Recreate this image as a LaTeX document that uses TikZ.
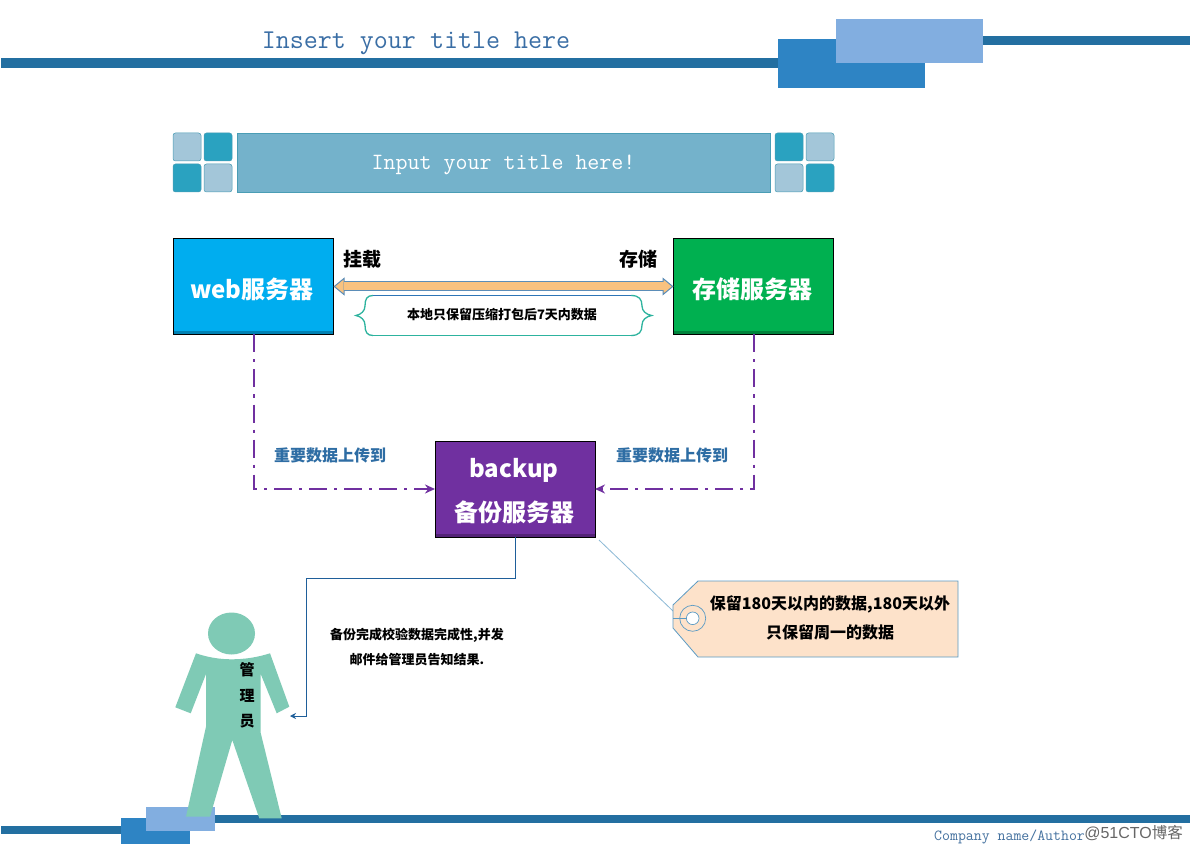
\documentclass[tikz,border=0pt]{standalone}
\usepackage{fontspec}
\usetikzlibrary{arrows.meta}
\newfontfamily\cjk{Noto Sans CJK SC}
\setmainfont{Liberation Sans}
\definecolor{barblue}{HTML}{236FA1}
\definecolor{midblue}{HTML}{2E84C4}
\definecolor{lightblue}{HTML}{82AEE0}
\definecolor{banner}{HTML}{74B2CB}
\definecolor{bannerline}{HTML}{4A9DB5}
\definecolor{tiledark}{HTML}{2AA2C0}
\definecolor{tilelight}{HTML}{A3C6D9}
\definecolor{webfill}{HTML}{00ADEF}
\definecolor{storefill}{HTML}{00B050}
\definecolor{backfill}{HTML}{7030A0}
\definecolor{arrowfill}{HTML}{F9C27F}
\definecolor{arrowline}{HTML}{5B8DB8}
\definecolor{labelblue}{HTML}{2E6DA4}
\definecolor{personfill}{HTML}{7FCAB5}
\definecolor{tagfill}{HTML}{FDE2CA}
\definecolor{tagline}{HTML}{5B9BC4}
\definecolor{teal2}{HTML}{2DB39E}
\definecolor{brace2}{HTML}{2E75B6}
\definecolor{flow}{HTML}{1F5F9A}
\definecolor{titlecol}{HTML}{3A6EA5}
\tikzset{
  server/.style={draw=black,line width=1pt,minimum width=160pt,minimum height=96pt,inner sep=0pt,outer sep=0pt,
    path picture={\fill[black,opacity=.25] ([yshift=3pt]path picture bounding box.south west) rectangle (path picture bounding box.south east);}},
  servertext/.style={text=white,font=\cjk\bfseries\fontsize{24}{30}\selectfont,inner sep=0pt},
  tile/.style={rounded corners=2.5pt,draw=bannerline,line width=.5pt},
  updash/.style={draw=backfill,line width=2pt,dash pattern=on 18pt off 7pt on 3pt off 7pt,-{Stealth[length=10pt,width=9pt]}},
  uplabel/.style={text=labelblue,font=\cjk\bfseries\fontsize{16}{19}\selectfont,inner sep=0pt},
  small/.style={font=\cjk\bfseries\fontsize{13}{15}\selectfont,inner sep=0pt,text=black},
  taglabel/.style={font=\cjk\bfseries\fontsize{16}{19}\selectfont,inner sep=0pt,text=black},
  side/.style={font=\cjk\bfseries\fontsize{19}{23}\selectfont,inner sep=0pt,text=black},
  vert/.style={font=\cjk\bfseries\fontsize{15}{18}\selectfont,inner sep=0pt,text=black},
}
\begin{document}
\begin{tikzpicture}[x=1pt,y=-1pt]
\useasboundingbox (0,0) rectangle (1192,850);
\fill[white] (0,0) rectangle (1192,850);
% top decoration
\fill[barblue] (1,58) rectangle (778,68);
\fill[barblue] (983,36) rectangle (1190,45);
\fill[midblue] (778,39) rectangle (925,88);
\fill[lightblue] (836,19) rectangle (983,63);
\node[text=titlecol,font=\ttfamily\fontsize{27.2}{30}\selectfont,inner sep=0pt] (title) at (416,43) {Insert your title here};
% banner
\fill[tilelight,tile] (173,133) rectangle (201,161);
\fill[tiledark,tile] (204,133) rectangle (232,161);
\fill[tiledark,tile] (173,164) rectangle (201,192);
\fill[tilelight,tile] (204,164) rectangle (232,192);
\fill[tiledark,tile] (775,133) rectangle (803,161);
\fill[tilelight,tile] (806,133) rectangle (834,161);
\fill[tilelight,tile] (775,164) rectangle (803,192);
\fill[tiledark,tile] (806,164) rectangle (834,192);
\node[fill=banner,draw=bannerline,line width=.7pt,minimum width=533pt,minimum height=59pt,inner sep=0pt,text=white,font=\ttfamily\fontsize{23.3}{26}\selectfont] (banner) at (503.5,162.5) {\raisebox{-7.5pt}[0pt][0pt]{Input your title here!}};
% servers
\node[server,fill=webfill] (web) at (253.5,286.5) {};
\node[servertext] (webtext) at (252,289) {web服务器};
\node[server,fill=storefill] (store) at (753.5,286.5) {};
\node[servertext] (storetext) at (752,289) {存储服务器};
\node[server,fill=backfill] (backup) at (515,489) {};
\node[servertext] (backtexta) at (514,470) {backup};
\node[servertext] (backtextb) at (514,512) {备份服务器};
% labels
\node[side] (gua) at (362,259) {挂载};
\node[side] (cun) at (638,259) {存储};
% double arrow
\draw[line width=10pt,color=arrowline,{Triangle[length=11pt,width=18pt,line width=1pt,fill=arrowfill]}-{Triangle[length=11pt,width=18pt,line width=1pt,fill=arrowfill]}] (web.east) -- (store.west);
\draw[line width=8pt,color=arrowfill,shorten <=10pt,shorten >=10pt] (web.east) -- (store.west);
% brace box
\draw[teal2,line width=1.3pt,line join=round] (373,335.5) -- (631,335.5);
\draw[teal2,line width=1.3pt] (373,295.5) .. controls (367,295.5) and (365,299) .. (365,306) .. controls (365,311) and (361,314.5) .. (356,315.5) .. controls (361,316.5) and (365,320) .. (365,325) .. controls (365,332) and (367,335.5) .. (373,335.5);
\draw[teal2,line width=1.3pt] (631,295.5) .. controls (639,295.5) and (642,299) .. (642,306) .. controls (642,311) and (646,314.5) .. (651.7,315.5) .. controls (646,316.5) and (642,320) .. (642,325) .. controls (642,332) and (639,335.5) .. (631,335.5);
\draw[brace2,line width=1.3pt] (373,295.5) -- (631,295.5);
\node[small] (local) at (502,315) {本地只保留压缩打包后7天内数据};
% upload connectors
\draw[updash] (web.south) |- (backup.west);
\draw[updash] (store.south) |- (backup.east);
\node[uplabel] (upa) at (330,455) {重要数据上传到};
\node[uplabel] (upb) at (672,455) {重要数据上传到};
% person
\fill[personfill] (231.5,633.5) ellipse [x radius=23.5pt,y radius=21pt];
% bottom decoration
\fill[barblue] (1,826) rectangle (121,834);
\fill[barblue] (215,815) rectangle (1190,822.5);
\fill[midblue] (121,818) rectangle (190,844);
\fill[lightblue] (146,807) rectangle (215,831);
\fill[personfill] (196,653.3) .. controls (208,657.5) and (220,659.3) .. (231.7,659.3) .. controls (244,659.3) and (257,657.5) .. (270,653.3)
  -- (289.3,706.7) -- (276.7,713.3) -- (260.7,674) -- (260.7,733) -- (281.7,818.3) -- (259.3,818.3) -- (232.3,740) -- (210,816.7) -- (186,816.7)
  -- (206,726.7) -- (206,674) -- (190.7,713.3) -- (175.3,707.3) -- cycle;
\node[vert] (v1) at (247,670) {管};
\node[vert] (v2) at (247,696) {理};
\node[vert] (v3) at (247,721) {员};
% mail connector
\coordinate (hand) at (290,716);
\draw[flow,line width=.8pt,-{Stealth[length=6pt,width=6pt]}] (backup.south) -- (515,578) -- (306,578) -- (306,716) -- (hand);
\node[small] (mail1) at (417,635) {备份完成校验数据完成性,并发};
\node[small] (mail2) at (417,660) {邮件给管理员告知结果.};
% tag
\coordinate (corner) at (599,540);
\coordinate (tagtip) at (673,611);
\draw[tagline!70,line width=.8pt] (corner) -- (tagtip);
\filldraw[fill=tagfill,draw=tagline,line width=.8pt] (698,581) -- (958,581) -- (958,657) -- (698,657) -- (673,628) -- (673,605) -- cycle;
\draw[tagline,line width=.7pt] (692.7,618.3) circle [radius=13pt];
\draw[tagline,line width=.7pt] (673,618.3) -- (686,618.3);
\filldraw[fill=white,draw=tagline,line width=.7pt] (692.7,618.3) circle [radius=6.3pt];
\node[taglabel] (tag1) at (830,604) {保留180天以内的数据,180天以外};
\node[taglabel] (tag2) at (830,632) {只保留周一的数据};
% footer
\node[anchor=west,text=titlecol!85!gray,font=\ttfamily\fontsize{15.4}{18}\selectfont,inner sep=0pt] (company) at (934,837) {Company name/Author};
\node[anchor=east,text=black!60,font=\fontsize{16}{18}\selectfont,inner sep=0pt] (mark) at (1183,833) {@51CTO{\cjk\fontsize{15.5}{18}\selectfont 博客}};
\end{tikzpicture}
\end{document}
